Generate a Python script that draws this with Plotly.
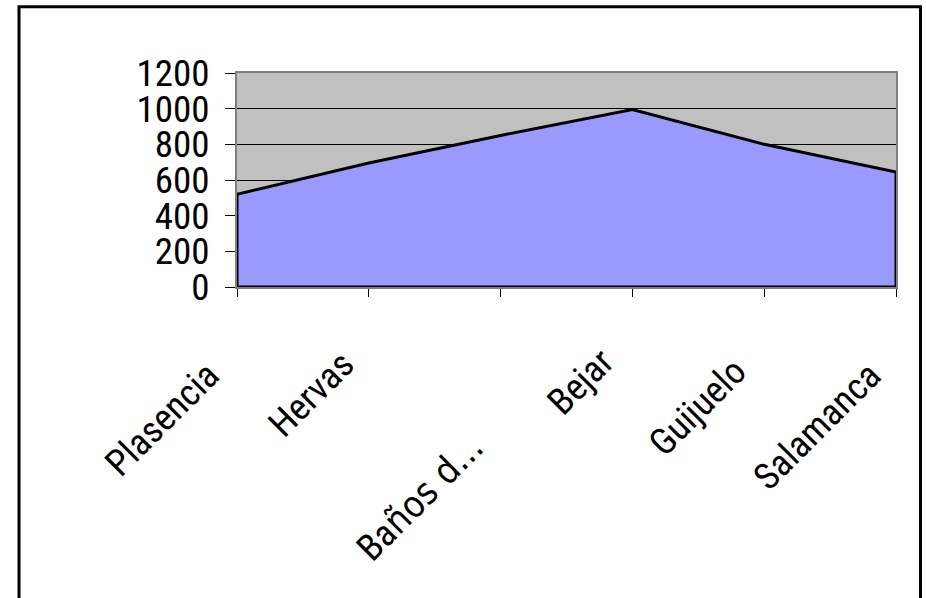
import plotly.graph_objects as go

# ---- data ----
categories = ["Plasencia", "Hervas", "Baños d...", "Bejar", "Guijuelo", "Salamanca"]
values = [520, 695, 850, 995, 800, 645]
y_ticks = [0, 200, 400, 600, 800, 1000, 1200]

# ---- style / layout constants ----
W, H = 926, 598
L, R, T, B = 237, 30, 73, 311
FONT = "Roboto Condensed, DejaVu Sans Condensed, Liberation Sans, sans-serif"
FS = 37
label_shift = {  # (xshift, yshift) in px for the rotated category labels
    "Plasencia": (-7, -64),
    "Hervas": (-4, -53),
    "Baños d...": (-6, -136),
    "Bejar": (-7, -50),
    "Guijuelo": (-7, -60),
    "Salamanca": (-4, -65),
}
label_html = {"Baños d...": "Ba<span style='font-family:DejaVu Sans Condensed'>ños d...</span>"}

fig = go.Figure()

# closed area polygon (outline drawn around the whole filled region)
xs = categories + [categories[-1], categories[0], categories[0]]
ys = values + [0, 0, values[0]]
fig.add_trace(go.Scatter(
    x=xs, y=ys, mode="lines", fill="toself",
    fillcolor="#9999ff", line=dict(color="black", width=3),
    hoverinfo="skip", showlegend=False,
))

for c in categories:
    dx, dy = label_shift[c]
    fig.add_annotation(
        x=c, y=0, xref="x", yref="y", text=label_html.get(c, c), showarrow=False,
        textangle=-45, xanchor="right", yanchor="top",
        xshift=dx, yshift=dy,
        font=dict(family=FONT, size=FS, color="black"),
    )

# outer border frame
pw, ph = W - L - R, H - T - B
def px_x(p):
    return (p - L) / pw
def px_y(p):
    return (H - B - p) / ph
fig.add_shape(type="rect", xref="paper", yref="paper",
              x0=px_x(19), x1=px_x(920.5), y0=px_y(640), y1=px_y(6.7),
              line=dict(color="black", width=3), fillcolor="rgba(0,0,0,0)",
              layer="below")

fig.update_xaxes(
    type="category", categoryorder="array", categoryarray=categories,
    range=[0, len(categories) - 1], showgrid=False, zeroline=False,
    ticks="outside", ticklen=8, tickcolor="black", tickwidth=1,
    showticklabels=False,
    showline=True, linecolor="#808080", linewidth=2, mirror=True,
    layer="below traces",
)
fig.update_yaxes(
    range=[0, 1200], tickvals=y_ticks, ticktext=[str(v) for v in y_ticks],
    showgrid=True, gridcolor="black", gridwidth=1, zeroline=False,
    ticks="outside", ticklen=10, tickcolor="black", tickwidth=1,
    ticklabelstandoff=8,
    tickfont=dict(family=FONT, size=FS, color="black"),
    showline=True, linecolor="#808080", linewidth=2, mirror=True,
    layer="below traces",
)

fig.update_layout(
    width=W, height=H,
    margin=dict(l=L, r=R, t=T, b=B, pad=0),
    paper_bgcolor="white", plot_bgcolor="#c0c0c0",
    showlegend=False,
    font=dict(family=FONT, color="black"),
)

fig.write_html(
    "out.html",
    config={"displayModeBar": False},
    post_script="document.body.style.margin='0';document.body.style.overflow='hidden';",
)
